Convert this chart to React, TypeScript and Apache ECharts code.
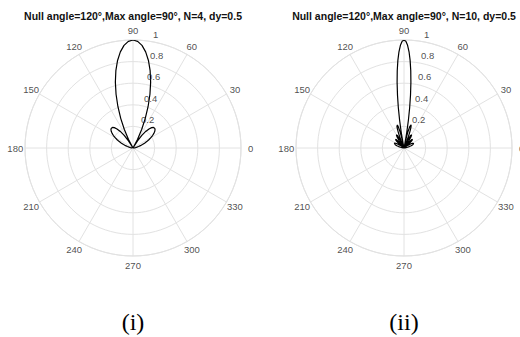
import React, { useEffect, useRef } from "react";
import * as echarts from "echarts";

// ---- data ----
const TITLES = [
  "Null angle=120°,Max angle=90°, N=4, dy=0.5",
  "Null angle=120°,Max angle=90°, N=10, dy=0.5",
];
const PANEL_LABELS = ["(i)", "(ii)"];

const ANGLE_TICKS = [0, 30, 60, 90, 120, 150, 180, 210, 240, 270, 300, 330];
const RADIUS_TICKS = [0.2, 0.4, 0.6, 0.8, 1];

// N = 4 pattern (angle in degrees, normalised amplitude)
const N4_ANGLES = [
  0, 2.5, 5, 7.5, 10, 12.5, 15, 17.5, 20, 22.5, 25, 27.5, 30, 32.5, 35, 37.5, 40, 42.5, 45,
  47.5, 50, 52.5, 55, 57.5, 60, 62.5, 65, 67.5, 70, 72.5, 75, 77.5, 80, 82.5, 85, 87.5, 90,
  92.5, 95, 97.5, 100, 102.5, 105, 107.5, 110, 112.5, 115, 117.5, 120, 122.5, 125, 127.5,
  130, 132.5, 135, 137.5, 140, 142.5, 145, 147.5, 150, 152.5, 155, 157.5, 160, 162.5, 165,
  167.5, 170, 172.5, 175, 177.5, 180,
];
const N4_VALUES = [
  0, 0.0015, 0.006, 0.0134, 0.0238, 0.0371, 0.0532, 0.0719, 0.0929, 0.1159, 0.1403, 0.1656,
  0.1907, 0.2147, 0.2363, 0.254, 0.2666, 0.272, 0.2689, 0.2557, 0.2306, 0.1933, 0.1422,
  0.0777, 0, 0.0897, 0.1896, 0.2971, 0.4091, 0.5217, 0.6312, 0.7331, 0.8232, 0.8979, 0.9537,
  0.9883, 1,
  0.9883, 0.9537, 0.8979, 0.8232, 0.7331, 0.6312, 0.5217, 0.4091, 0.2971, 0.1896, 0.0897, 0,
  0.0777, 0.1422, 0.1933, 0.2306, 0.2557, 0.2689, 0.272, 0.2666, 0.254, 0.2363, 0.2147,
  0.1907, 0.1656, 0.1403, 0.1159, 0.0929, 0.0719, 0.0532, 0.0371, 0.0238, 0.0134, 0.006,
  0.0015, 0,
];

// N = 10 pattern
const N10_ANGLES = [
  0, 3, 6, 9, 12, 15, 18, 21, 24, 27, 30, 32, 35, 36.87, 38, 40, 42, 44, 46, 48, 50, 52,
  53.13, 54, 56, 58, 60, 62, 64, 66, 66.42, 67, 68, 69, 70, 71, 72, 73, 74, 75, 76, 77, 78,
  78.46, 79, 80, 81, 82, 83, 84, 85, 86, 87, 88, 89, 90,
  91, 92, 93, 94, 95, 96, 97, 98, 99, 100, 101, 101.54, 102, 103, 104, 105, 106, 107, 108,
  109, 110, 111, 112, 113, 113.58, 114, 116, 118, 120, 122, 124, 126, 126.87, 128, 130, 132,
  134, 136, 138, 140, 142, 143.13, 145, 148, 150, 153, 156, 159, 162, 165, 168, 171, 174,
  177, 180,
];
const N10_VALUES = [
  0, 0.0022, 0.0086, 0.0192, 0.0337, 0.0511, 0.0698, 0.0869, 0.0987, 0.1005, 0.0881, 0.0705,
  0.0309, 0, 0.0198, 0.0545, 0.0847, 0.1055, 0.1123, 0.1019, 0.0735, 0.0296, 0, 0.0239,
  0.0777, 0.1206, 0.1414, 0.132, 0.0892, 0.0177, 0, 0.0252, 0.07, 0.114, 0.1544, 0.1881,
  0.2122, 0.224, 0.2211, 0.2018, 0.165, 0.1104, 0.0386, 0, 0.0487, 0.1493, 0.2599, 0.3765,
  0.4949, 0.6102, 0.7178, 0.8134, 0.8921, 0.9512, 0.9876, 1,
  0.9876, 0.9512, 0.8921, 0.8134, 0.7178, 0.6102, 0.4949, 0.3765, 0.2599, 0.1493, 0.0487, 0,
  0.0386, 0.1104, 0.165, 0.2018, 0.2211, 0.224, 0.2122, 0.1881, 0.1544, 0.114, 0.07, 0.0252,
  0, 0.0177, 0.0892, 0.132, 0.1414, 0.1206, 0.0777, 0.0239, 0, 0.0296, 0.0735, 0.1019,
  0.1123, 0.1055, 0.0847, 0.0545, 0.0198, 0, 0.0309, 0.0705, 0.0881, 0.1005, 0.0987, 0.0869,
  0.0698, 0.0511, 0.0337, 0.0192, 0.0086, 0.0022, 0,
];

// ---- styling / layout ----
const GRID_COLOR = "#e2e2e2";
const TEXT_COLOR = "#222";
const SANS = "'Liberation Sans', Arial, sans-serif";
const SERIF = "'Liberation Serif', 'Times New Roman', serif";
const CENTERS = [
  [133, 148],
  [404, 148],
];
const RADIUS = 108;
const ANGLE_LABEL_R = 1.09;
const RADIUS_LABEL_ANGLE = 82;

function pairs(values: number[], angles: number[]) {
  return values.map((v, i) => [v, angles[i]]);
}

export default function App() {
  const ref = useRef<HTMLDivElement>(null);

  useEffect(() => {
    document.body.style.margin = "0";
    if (!ref.current) return;
    const chart = echarts.init(ref.current, undefined, { renderer: "svg" });

    const patterns = [
      pairs(N4_VALUES, N4_ANGLES),
      pairs(N10_VALUES, N10_ANGLES),
    ];

    const series: any[] = [];
    patterns.forEach((data, i) => {
      series.push({
        type: "line",
        coordinateSystem: "polar",
        polarIndex: i,
        data,
        showSymbol: false,
        symbol: "none",
        smooth: false,
        silent: true,
        lineStyle: { color: "#000", width: 1.2 },
        z: 5,
      });
      series.push({
        type: "scatter",
        coordinateSystem: "polar",
        polarIndex: i,
        data: ANGLE_TICKS.map((a) => [ANGLE_LABEL_R, a]),
        symbolSize: 0,
        clip: false,
        silent: true,
        itemStyle: { color: "transparent" },
        label: {
          show: true,
          position: "inside",
          formatter: (p: any) => String(p.value[1]),
          color: TEXT_COLOR,
          fontSize: 9.5,
          fontFamily: SANS,
          align: "center",
          verticalAlign: "middle",
        },
      });
      series.push({
        type: "scatter",
        coordinateSystem: "polar",
        polarIndex: i,
        data: RADIUS_TICKS.map((r) => [r, RADIUS_LABEL_ANGLE]),
        symbolSize: 0,
        clip: false,
        silent: true,
        itemStyle: { color: "transparent" },
        label: {
          show: true,
          position: "right",
          distance: 5,
          offset: [0, -7],
          formatter: (p: any) => String(p.value[0]),
          color: TEXT_COLOR,
          fontSize: 9.5,
          fontFamily: SANS,
        },
        z: 6,
      });
    });

    const option: any = {
      animation: false,
      backgroundColor: "#fff",
      title: TITLES.map((t, i) => ({
        text: t,
        left: CENTERS[i][0],
        top: 10,
        padding: 0,
        textAlign: "center",
        textStyle: {
          fontSize: 10.5,
          fontWeight: "bold",
          fontFamily: SANS,
          color: "#111",
          lineHeight: 12,
        },
      })),
      polar: CENTERS.map((c) => ({ center: c, radius: RADIUS })),
      angleAxis: CENTERS.map((_, i) => ({
        polarIndex: i,
        type: "value",
        min: 0,
        max: 360,
        interval: 30,
        startAngle: 0,
        clockwise: false,
        axisLine: { show: true, lineStyle: { color: GRID_COLOR, width: 1 } },
        axisTick: { show: false },
        axisLabel: { show: false },
        splitLine: { show: true, lineStyle: { color: GRID_COLOR, width: 1 } },
      })),
      radiusAxis: CENTERS.map((_, i) => ({
        polarIndex: i,
        type: "value",
        min: 0,
        max: 1,
        interval: 0.2,
        axisLine: { show: false },
        axisTick: { show: false },
        axisLabel: { show: false },
        splitLine: { show: true, lineStyle: { color: GRID_COLOR, width: 1 } },
      })),
      graphic: PANEL_LABELS.map((t, i) => ({
        type: "text",
        x: CENTERS[i][0],
        y: 322,
        silent: true,
        style: {
          text: t,
          fontSize: 24,
          fontFamily: SERIF,
          fill: "#000",
          align: "center",
          verticalAlign: "middle",
          textAlign: "center",
          textVerticalAlign: "middle",
        },
      })),
      series,
    };

    chart.setOption(option);
    return () => chart.dispose();
  }, []);

  return <div ref={ref} style={{ width: 520, height: 337 }} />;
}
